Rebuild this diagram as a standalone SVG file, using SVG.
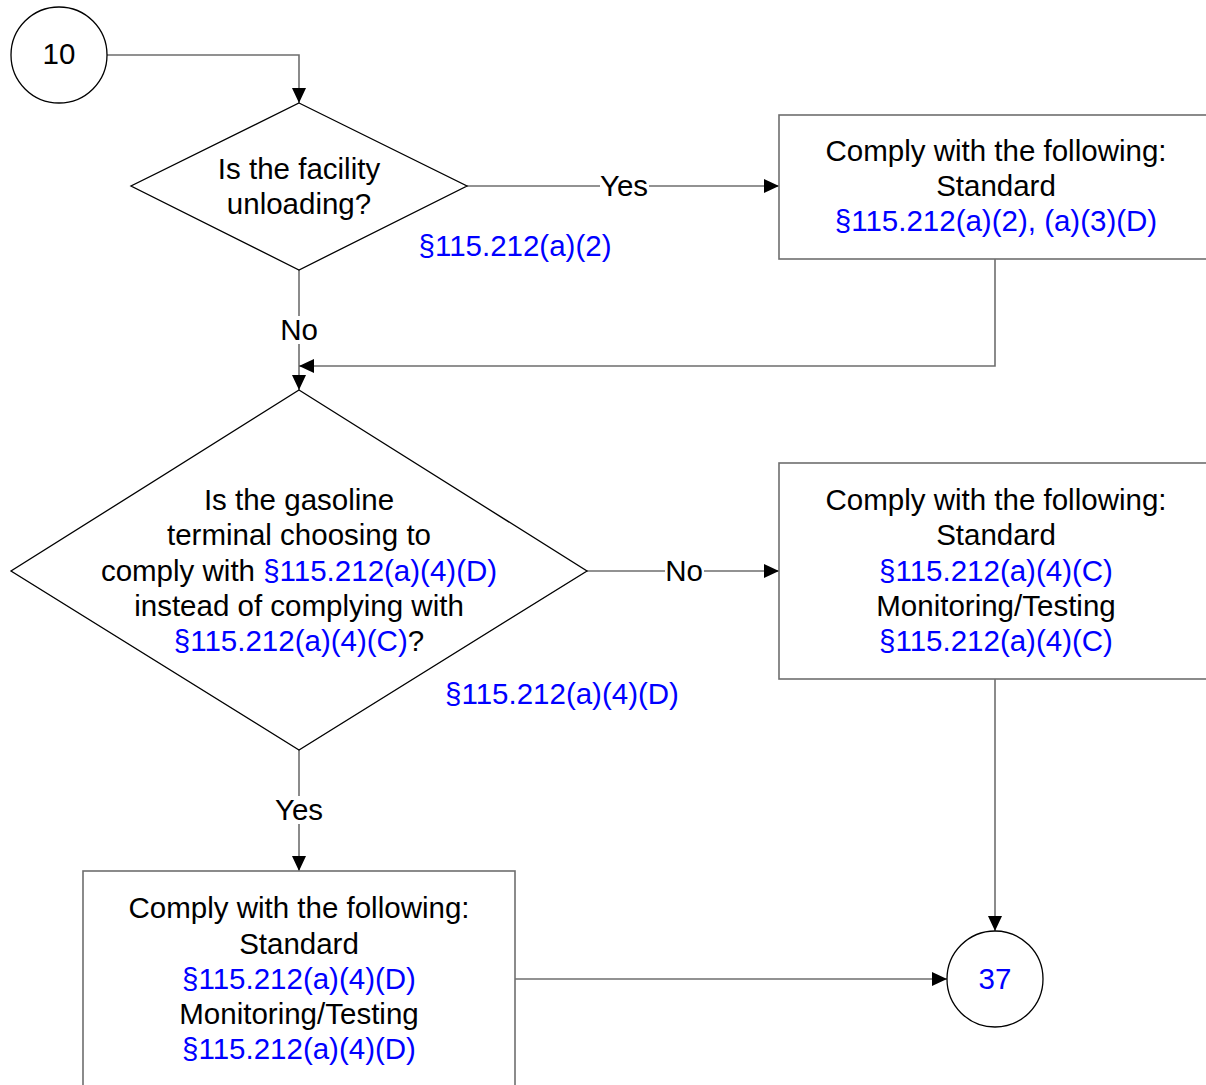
<svg xmlns="http://www.w3.org/2000/svg" width="1206" height="1085" viewBox="0 0 1206 1085">
<defs>
<marker id="arr" markerUnits="userSpaceOnUse" markerWidth="16" markerHeight="14" refX="15" refY="7" orient="auto">
<path d="M0,0 L15,7 L0,14 Z" fill="#000"/>
</marker>
<style>
text{font-family:"Liberation Sans",Arial,sans-serif;font-size:29.5px;fill:#000;text-anchor:middle}
.b{fill:#0000FF}
.box{fill:#fff;stroke:#6e6e6e;stroke-width:1.6}
.dia{fill:#fff;stroke:#000;stroke-width:1.3}
.cir{fill:#fff;stroke:#000;stroke-width:1.3}
.con{fill:none;stroke:#6e6e6e;stroke-width:1.6;marker-end:url(#arr)}
.lbg{fill:#fff}
</style>
</defs>
<rect width="1206" height="1085" fill="#fff"/>
<g id="connectors">
<path class="con" d="M107,55 H299 V103"/>
<path class="con" d="M467,186 H779"/>
<path class="con" d="M299,270 V390"/>
<path class="con" d="M995,259 V366 H299"/>
<path class="con" d="M587,571 H779"/>
<path class="con" d="M299,750 V871"/>
<path class="con" d="M995,679 V931"/>
<path class="con" d="M515,979 H947"/>
<rect class="lbg" x="600" y="172" width="49" height="28"/>
<text x="624" y="196">Yes</text>
<rect class="lbg" x="280" y="316" width="39" height="28"/>
<text x="299" y="340">No</text>
<rect class="lbg" x="665" y="557" width="39" height="28"/>
<text x="684" y="581">No</text>
<rect class="lbg" x="275" y="796" width="49" height="28"/>
<text x="299" y="820">Yes</text>
</g>
<g id="start10">
<circle class="cir" cx="59" cy="55" r="48"/>
<text x="59" y="64">10</text>
</g>
<g id="q1">
<polygon class="dia" points="299,103 467,186 299,270 131,186"/>
<text x="299" y="179">Is the facility</text>
<text x="299" y="214">unloading?</text>
<text class="b" x="515" y="256">§115.212(a)(2)</text>
</g>
<g id="box1">
<rect class="box" x="779" y="115" width="440" height="144"/>
<text x="996" y="161">Comply with the following:</text>
<text x="996" y="196">Standard</text>
<text class="b" x="996" y="231">§115.212(a)(2), (a)(3)(D)</text>
</g>
<g id="q2">
<polygon class="dia" points="299,390 587,571 299,750 11,571"/>
<text x="299" y="510">Is the gasoline</text>
<text x="299" y="545">terminal choosing to</text>
<text x="299" y="581">comply with <tspan class="b">§115.212(a)(4)(D)</tspan></text>
<text x="299" y="616">instead of complying with</text>
<text x="299" y="651"><tspan class="b">§115.212(a)(4)(C)</tspan>?</text>
<text class="b" x="562" y="704">§115.212(a)(4)(D)</text>
</g>
<g id="box2">
<rect class="box" x="779" y="463" width="440" height="216"/>
<text x="996" y="510">Comply with the following:</text>
<text x="996" y="545">Standard</text>
<text class="b" x="996" y="581">§115.212(a)(4)(C)</text>
<text x="996" y="616">Monitoring/Testing</text>
<text class="b" x="996" y="651">§115.212(a)(4)(C)</text>
</g>
<g id="box3">
<rect class="box" x="83" y="871" width="432" height="230"/>
<text x="299" y="918">Comply with the following:</text>
<text x="299" y="954">Standard</text>
<text class="b" x="299" y="989">§115.212(a)(4)(D)</text>
<text x="299" y="1024">Monitoring/Testing</text>
<text class="b" x="299" y="1059">§115.212(a)(4)(D)</text>
</g>
<g id="end37">
<circle class="cir" cx="995" cy="979" r="48"/>
<text class="b" x="995" y="989">37</text>
</g>
</svg>
